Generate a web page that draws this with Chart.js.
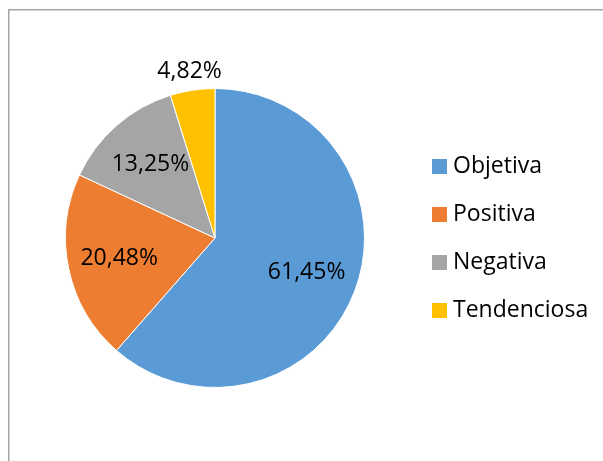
<!DOCTYPE html>
<html>
<head>
<meta charset="utf-8">
<script src="https://cdn.jsdelivr.net/npm/chart.js@4.4.1/dist/chart.umd.min.js"></script>
<style>
  html, body { margin: 0; padding: 0; background: #fff; }
  #wrap { position: relative; width: 603px; height: 461px; }
</style>
</head>
<body>
<div id="wrap"><canvas id="pieChart" width="603" height="461"></canvas></div>
<script>
// Datos del gráfico
const categories = ['Objetiva', 'Positiva', 'Negativa', 'Tendenciosa'];
const percentages = [61.45, 20.48, 13.25, 4.82];
const sliceColors = ['#5B9BD5', '#ED7D31', '#A5A5A5', '#FFC000'];

const FONT = '"Open Sans", "Liberation Sans", sans-serif';

// Marco gris alrededor del gráfico
const framePlugin = {
  id: 'frame',
  beforeDraw(chart) {
    const ctx = chart.ctx;
    ctx.save();
    ctx.strokeStyle = '#a6a6a6';
    ctx.lineWidth = 1.5;
    ctx.beginPath();
    ctx.moveTo(8.75, chart.height + 5);
    ctx.lineTo(8.75, 9.75);
    ctx.lineTo(chart.width + 5, 9.75);
    ctx.stroke();
    ctx.restore();
  }
};

// Etiquetas de porcentaje sobre cada porción
const labelPlugin = {
  id: 'sliceLabels',
  afterDatasetsDraw(chart) {
    const ctx = chart.ctx;
    const meta = chart.getDatasetMeta(0);
    ctx.save();
    ctx.font = '23px ' + FONT;
    ctx.fillStyle = '#000';
    ctx.textAlign = 'center';
    ctx.textBaseline = 'middle';
    meta.data.forEach((arc, i) => {
      const mid = (arc.startAngle + arc.endAngle) / 2;
      const dist = percentages[i] < 6 ? arc.outerRadius + 19 : arc.outerRadius * 0.655;
      const x = arc.x + Math.cos(mid) * dist;
      const y = arc.y + Math.sin(mid) * dist;
      ctx.fillText(percentages[i].toFixed(2).replace('.', ',') + '%', x, y);
    });
    ctx.restore();
  }
};

// Leyenda a la derecha
const legendPlugin = {
  id: 'sideLegend',
  afterDraw(chart) {
    const ctx = chart.ctx;
    ctx.save();
    ctx.font = '23px ' + FONT;
    ctx.textBaseline = 'middle';
    ctx.textAlign = 'left';
    categories.forEach((name, i) => {
      const y = 166.5 + i * 48;
      ctx.fillStyle = sliceColors[i];
      ctx.fillRect(432, y - 7.5, 15, 15);
      ctx.fillStyle = '#000';
      ctx.fillText(name, 453, y);
    });
    ctx.restore();
  }
};

new Chart(document.getElementById('pieChart'), {
  type: 'pie',
  data: {
    labels: categories,
    datasets: [{
      data: percentages,
      backgroundColor: sliceColors,
      borderColor: '#fff',
      borderWidth: 1
    }]
  },
  options: {
    responsive: false,
    animation: false,
    layout: { padding: { left: 65, right: 238, top: 88, bottom: 73 } },
    plugins: {
      legend: { display: false },
      tooltip: { enabled: false }
    }
  },
  plugins: [framePlugin, labelPlugin, legendPlugin]
});
</script>
</body>
</html>
